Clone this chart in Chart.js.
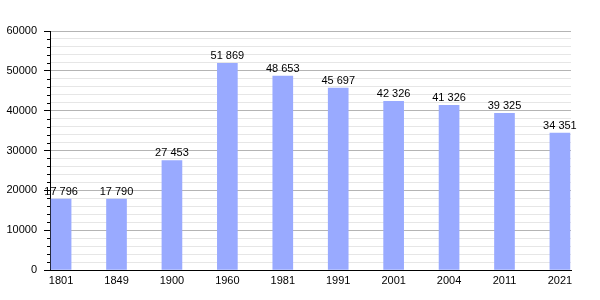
<!DOCTYPE html>
<html>
<head>
<meta charset="utf-8">
<script src="https://cdn.jsdelivr.net/npm/chart.js@4"></script>
<style>
	html, body { margin: 0; padding: 0; background: #fff; }
	#wrap { width: 600px; height: 300px; }
</style>
</head>
<body>
<div id="wrap"><canvas id="popChart" width="600" height="300"></canvas></div>
<script>
var years = [ '1801', '1849', '1900', '1960', '1981', '1991', '2001', '2004', '2011', '2021' ];
var population = [ 17796, 17790, 27453, 51869, 48653, 45697, 42326, 41326, 39325, 34351 ];
var yTicks = [ 0, 10000, 20000, 30000, 40000, 50000, 60000 ];

function formatNumber(n) {
	return String(n).replace(/\B(?=(\d{3})+(?!\d))/g, ' ');
}

// minor tick marks on the y axis and value labels above the bars
var extras = {
	id : 'extras',
	afterDraw : function(c) {
		var ctx = c.ctx, y = c.scales.y;
		ctx.save();
		ctx.strokeStyle = '#000';
		ctx.lineWidth = 1;
		for (var v = 0; v <= 60000; v += 2000) {
			if (v % 10000 === 0) continue;
			var py = Math.round(y.getPixelForValue(v)) + 0.5;
			ctx.beginPath();
			ctx.moveTo(y.right - 3, py);
			ctx.lineTo(y.right, py);
			ctx.stroke();
		}
		ctx.fillStyle = '#000';
		ctx.font = '11px "Liberation Sans", Arial, sans-serif';
		ctx.textAlign = 'center';
		ctx.textBaseline = 'bottom';
		c.getDatasetMeta(0).data.forEach(function(bar, i) {
			ctx.fillText(formatNumber(population[i]), bar.x, bar.y - 2);
		});
		ctx.restore();
	}
};

new Chart(document.getElementById('popChart').getContext('2d'), {
	type : 'bar',
	data : {
		datasets : [ {
			data : population.map(function(v, i) { return { x : i, y : v }; }),
			backgroundColor : '#99aaff',
			barThickness : 20
		} ]
	},
	options : {
		responsive : false,
		animation : false,
		layout : { padding : { top : 31, right : 29, left : 0, bottom : 0 } },
		plugins : { legend : { display : false }, tooltip : { enabled : false } },
		scales : {
			x : {
				type : 'linear',
				offset : false,
				min : -0.2,
				max : 9.2,
				grid : { display : false, drawTicks : false },
				border : { display : true, color : '#000', width : 1 },
				afterFit : function(s) { s.height = 30; },
				ticks : {
					stepSize : 1,
					includeBounds : false,
					padding : 4,
					color : '#000',
					maxRotation : 0,
					autoSkip : false,
					font : { family : '"Liberation Sans", Arial, sans-serif', size : 11 },
					callback : function(v) { return years[v] !== undefined ? years[v] : ''; }
				}
			},
			y : {
				min : 0,
				max : 60000,
				afterFit : function(s) { s.width = 50; },
				grid : {
					color : function(ctx) {
						return ctx.tick && ctx.tick.value % 10000 === 0 ? '#b4b4b4' : '#e6e6e6';
					},
					tickColor : function(ctx) {
						return ctx.tick && ctx.tick.value % 10000 === 0 ? '#000' : 'rgba(0,0,0,0)';
					},
					tickLength : 6
				},
				border : { display : true, color : '#000', width : 1 },
				ticks : {
					stepSize : 2000,
					autoSkip : false,
					padding : 7,
					color : '#000',
					font : { family : '"Liberation Sans", Arial, sans-serif', size : 11 },
					callback : function(v) { return yTicks.indexOf(v) >= 0 ? String(v) : ''; }
				}
			}
		}
	},
	plugins : [ extras ]
});
</script>
</body>
</html>
